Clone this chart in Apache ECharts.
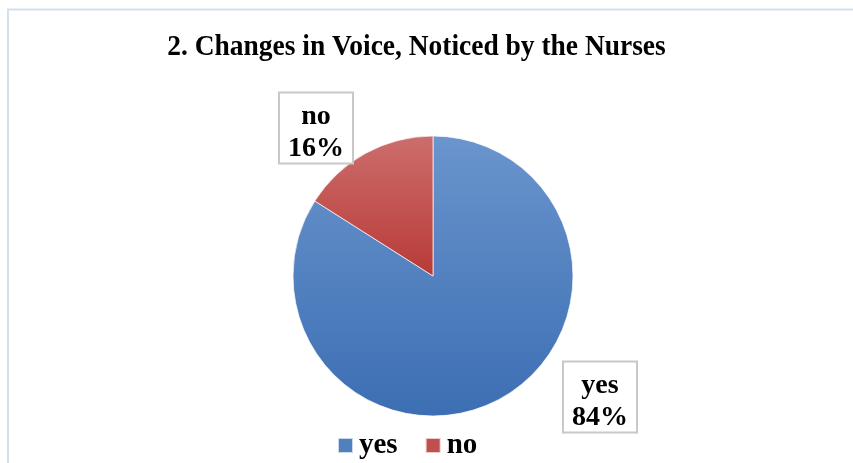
<!DOCTYPE html>
<html><head><meta charset="utf-8">
<script src="https://cdn.jsdelivr.net/npm/echarts@6/dist/echarts.min.js"></script>
<style>html,body{margin:0;padding:0;background:#fff}#c{width:853px;height:463px}</style>
</head><body><div id="c"></div>
<script>
var titleText = '2. Changes in Voice, Noticed by the Nurses';
var categories = ['yes', 'no'];
var values = [84, 16];
var labelPos = [[600, 397], [316, 128]];

var grad = function (top, bottom) {
  return new echarts.graphic.LinearGradient(0, 0, 0, 1, [
    { offset: 0, color: top }, { offset: 1, color: bottom }]);
};
var colors = [grad('#6a95cd', '#3c6eb3'), grad('#cc6e6c', '#b83a37')];
var legendColors = ['#4f81bd', '#c0504d'];
var FONT = 'Liberation Serif';

var chart = echarts.init(document.getElementById('c'), null, { renderer: 'canvas' });
chart.setOption({
  animation: false,
  backgroundColor: '#fff',
  graphic: [{
    type: 'rect', shape: { x: 8, y: 9.5, width: 900, height: 500 },
    style: { fill: 'none', stroke: '#d3dff0', lineWidth: 2 }, silent: true
  }, {
    type: 'text', x: 416.5, y: 47, scaleX: 0.915,
    style: {
      text: titleText, fill: '#000', align: 'center', verticalAlign: 'middle',
      font: 'bold 30px "Liberation Serif"'
    }, silent: true
  }],
  legend: {
    top: 426, left: 332, icon: 'rect', itemWidth: 15, itemHeight: 15, itemGap: 27,
    textStyle: { fontFamily: FONT, fontWeight: 'bold', fontSize: 29, color: '#000', padding: [0, 0, 0, 1] },
    data: categories.map(function (c, i) { return { name: c, itemStyle: { color: legendColors[i] } }; })
  },
  series: [{
    type: 'pie', center: [433, 276], radius: 140, startAngle: 90, clockwise: true,
    itemStyle: { borderColor: 'rgba(255,255,255,0.7)', borderWidth: 1 },
    label: {
      show: true, position: 'outside',
      formatter: function (p) { return '{n|' + p.name + '}\n{v|' + p.value + '%}'; },
      fontFamily: FONT, fontWeight: 'bold', fontSize: 28, color: '#000',
      backgroundColor: '#fff', borderColor: '#c8c8c8', borderWidth: 2,
      padding: [5, 8, 0, 8], align: 'center',
      rich: {
        n: { fontFamily: FONT, fontWeight: 'bold', fontSize: 28, lineHeight: 36 },
        v: { fontFamily: FONT, fontWeight: 'bold', fontSize: 28, lineHeight: 28 }
      }
    },
    labelLine: { show: false },
    labelLayout: function (p) {
      var pos = labelPos[p.dataIndex];
      return { x: pos[0], y: pos[1], align: 'center', verticalAlign: 'middle' };
    },
    emphasis: { disabled: true },
    data: categories.map(function (c, i) { return { name: c, value: values[i], itemStyle: { color: colors[i] } }; })
  }]
});
</script></body></html>
